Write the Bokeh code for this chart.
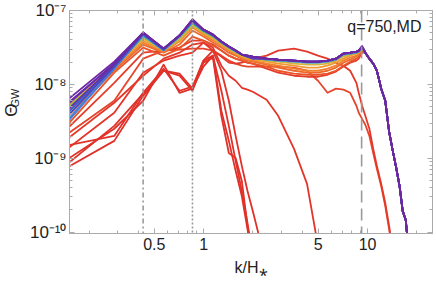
import numpy as np
from bokeh.plotting import figure
from bokeh.layouts import row
from bokeh.models import FixedTicker, CustomJSTickFormatter, LogAxis, Span, Label
from bokeh.core.properties import value
from bokeh.embed import file_html
from bokeh.resources import INLINE

# ---------------- data ----------------
# wavenumbers k/H* of the lattice modes (k_n = n * dk), sampled
k_grid = [0.1425, 0.285, 0.4275, 0.57, 0.7125, 0.855, 0.9975, 1.14, 1.2825, 1.425,
          1.5675, 1.71, 1.8525, 1.995, 2.4225, 2.85, 3.5625, 4.275, 4.9875, 5.7,
          6.4125, 7.125, 7.8375, 8.55, 8.835, 9.2625, 9.69, 10.26, 10.83, 11.4,
          12.1125, 12.825, 13.5375, 14.25, 14.9625, 15.675, 16.3875, 17.1, 17.8125]

x_major = [0.5, 1, 5, 10]
x_minor = [0.2, 0.3, 0.4, 0.6, 0.7, 0.8, 0.9, 2, 3, 4, 6, 7, 8, 9, 20]
y_major = [1e-10, 1e-9, 1e-8, 1e-7]
y_minor = [2e-10, 3e-10, 4e-10, 5e-10, 6e-10, 7e-10, 8e-10, 9e-10,
           2e-9, 3e-9, 4e-9, 5e-9, 6e-9, 7e-9, 8e-9, 9e-9,
           2e-8, 3e-8, 4e-8, 5e-8, 6e-8, 7e-8, 8e-8, 9e-8]

k_dashdot = 0.4275
k_dotted = 0.855
k_dashed = 9.2
label_text = "q=750,MD"

# early spectra (red)
early_1 = [7.2e-10, 1.72e-9, 7.0e-9, 1.53e-8, 1.31e-8, 8.2e-9, 1.97e-8, 2.30e-8, 3.76e-9,
           1.18e-9, 1.01e-9, 4.94e-10, 1.21e-10, 4.06e-11]
early_2 = [9.2e-10, 2.51e-9, 6.0e-9, 1.85e-8, 7.7e-9, 8.75e-9, 1.74e-8, 2.45e-8, 4.4e-9,
           1.72e-9, 6.75e-10, 3.09e-10, 1.10e-10, 3.47e-11]
early_3 = [1.47e-9, 2.01e-9, 7.7e-9, 1.63e-8, 8.2e-9, 9.3e-9, 2.10e-8, 2.87e-8, 1.53e-8,
           6.0e-9, 2.01e-9, 7.9e-10, 3.61e-10, 1.93e-10, 3.47e-11]
early_4 = [7.9e-10, 2.75e-9, 7.5e-9, 1.53e-8, 1.40e-8, 8.75e-9, 2.10e-8, 2.45e-8, 8.2e-9,
           2.75e-9, 9.2e-10, 3.61e-10, 1.33e-10, 4.74e-11]
early_5 = [1.26e-9, 4.13e-9, 1.44e-8, 2.10e-8, 2.45e-8, 2.69e-8, 3.68e-8, 3.15e-8, 1.79e-8,
           1.31e-8, 1.12e-8, 9.0e-9, 8.5e-9, 7.96e-9, 6.2e-9, 3.76e-9, 1.34e-9, 4.5e-10, 6.5e-11]
early_6 = [2.01e-9, 6.0e-9, 2.23e-8, 2.87e-8, 2.96e-8, 3.05e-8, 3.05e-8, 2.87e-8, 2.45e-8,
           2.10e-8, 1.91e-8, 1.79e-8, 1.74e-8, 1.74e-8, 1.74e-8, 1.74e-8, 1.69e-8, 1.53e-8,
           1.12e-8, 7.7e-9, 8.75e-9, 8.5e-9, 7.7e-9, 5.14e-9, 4.13e-9, 3.42e-9, 2.84e-9,
           2.01e-9, 1.18e-9, 7.2e-10, 4.22e-10, 2.26e-10, 1.10e-10, 5.5e-11]
early_7 = [1.72e-9, 5.65e-9, 1.31e-8, 2.23e-8, 2.69e-8, 3.46e-8, 3.68e-8, 2.87e-8, 2.38e-8,
           1.97e-8, 1.91e-8, 1.97e-8, 2.10e-8, 2.23e-8, 2.45e-8, 2.87e-8, 3.05e-8, 2.78e-8,
           2.45e-8, 2.23e-8, 1.97e-8, 1.79e-8, 1.53e-8, 1.05e-8, 7.7e-9, 5.14e-9, 3.76e-9,
           2.51e-9, 1.34e-9, 7.9e-10, 4.5e-10, 2.48e-10, 1.21e-10, 5.9e-11]

# later spectra: low/mid-k part (n = 1 ... 65)
mid_8 = [2.35e-9, 1.05e-8, 2.69e-8, 2.87e-8, 3.15e-8, 3.92e-8, 3.92e-8, 3.46e-8, 2.87e-8,
         2.45e-8, 2.23e-8, 2.10e-8, 1.97e-8, 1.91e-8, 1.63e-8, 1.44e-8, 1.31e-8, 1.27e-8,
         1.27e-8, 1.35e-8, 1.49e-8, 1.74e-8, 1.97e-8, 2.10e-8, 2.23e-8, 2.69e-8]
orange_1 = [2.59e-9, 1.44e-8, 3.15e-8, 2.45e-8, 3.05e-8, 4.44e-8, 3.92e-8, 3.35e-8, 2.87e-8,
            2.45e-8, 2.23e-8, 2.10e-8, 1.97e-8, 1.91e-8, 1.74e-8, 1.53e-8, 1.40e-8, 1.35e-8,
            1.35e-8, 1.40e-8, 1.53e-8, 1.79e-8, 2.03e-8, 2.23e-8, 2.38e-8, 2.87e-8]
orange_2 = [3.42e-9, 1.53e-8, 3.46e-8, 2.69e-8, 3.46e-8, 5.35e-8, 4.44e-8, 3.68e-8, 3.15e-8,
            2.69e-8, 2.45e-8, 2.23e-8, 2.10e-8, 2.03e-8, 1.85e-8, 1.69e-8, 1.53e-8, 1.44e-8,
            1.44e-8, 1.53e-8, 1.69e-8, 1.97e-8, 2.16e-8, 2.38e-8, 2.53e-8, 2.96e-8]
orange_3 = [4.13e-9, 1.63e-8, 3.68e-8, 2.78e-8, 3.80e-8, 5.88e-8, 4.72e-8, 3.92e-8, 3.35e-8,
            2.87e-8, 2.53e-8, 2.30e-8, 2.16e-8, 2.10e-8, 1.91e-8, 1.79e-8, 1.63e-8, 1.53e-8,
            1.53e-8, 1.63e-8, 1.79e-8, 2.10e-8, 2.30e-8, 2.45e-8, 2.61e-8, 3.05e-8]
orange_4 = [4.4e-9, 1.74e-8, 3.92e-8, 2.87e-8, 3.92e-8, 6.07e-8, 4.87e-8, 4.17e-8, 3.46e-8,
            2.96e-8, 2.61e-8, 2.38e-8, 2.23e-8, 2.16e-8, 2.03e-8, 1.91e-8, 1.79e-8, 1.69e-8,
            1.69e-8, 1.79e-8, 1.97e-8, 2.23e-8, 2.45e-8, 2.61e-8, 2.69e-8, 3.15e-8]
yellow_1 = [4.68e-9, 1.79e-8, 4.17e-8, 2.87e-8, 4.04e-8, 6.26e-8, 5.03e-8, 4.30e-8, 3.57e-8,
            3.05e-8, 2.69e-8, 2.45e-8, 2.30e-8, 2.23e-8, 2.10e-8, 2.03e-8, 1.91e-8, 1.85e-8,
            1.85e-8, 1.91e-8, 2.10e-8, 2.38e-8, 2.53e-8, 2.69e-8, 2.78e-8, 3.15e-8]
green_1 = [4.4e-9, 1.74e-8, 4.44e-8, 2.96e-8, 4.30e-8, 6.67e-8, 5.19e-8, 4.44e-8, 3.68e-8,
           3.15e-8, 2.78e-8, 2.53e-8, 2.38e-8, 2.30e-8, 2.16e-8, 2.10e-8, 2.03e-8, 1.97e-8,
           1.97e-8, 2.03e-8, 2.16e-8, 2.53e-8, 2.61e-8, 2.69e-8, 2.78e-8, 3.15e-8]
blue_1 = [3.02e-9, 1.63e-8, 4.58e-8, 2.87e-8, 4.44e-8, 6.87e-8, 5.35e-8, 4.58e-8, 3.68e-8,
          3.15e-8, 2.78e-8, 2.53e-8, 2.38e-8, 2.30e-8, 2.16e-8, 2.10e-8, 2.03e-8, 1.97e-8,
          1.97e-8, 2.03e-8, 2.16e-8, 2.53e-8, 2.61e-8, 2.69e-8, 2.78e-8, 3.15e-8]
blue_2 = [3.76e-9, 1.79e-8, 4.72e-8, 2.96e-8, 4.58e-8, 7.1e-8, 5.35e-8, 4.58e-8, 3.80e-8,
          3.25e-8, 2.87e-8, 2.53e-8, 2.45e-8, 2.38e-8, 2.23e-8, 2.16e-8, 2.10e-8, 2.03e-8,
          2.03e-8, 2.10e-8, 2.23e-8, 2.61e-8, 2.69e-8, 2.78e-8, 2.87e-8, 3.25e-8]
blue_3 = [2.84e-9, 1.63e-8, 4.72e-8, 2.96e-8, 4.58e-8, 7.1e-8, 5.35e-8, 4.58e-8, 3.80e-8,
          3.25e-8, 2.87e-8, 2.53e-8, 2.45e-8, 2.38e-8, 2.23e-8, 2.16e-8, 2.10e-8, 2.03e-8,
          2.03e-8, 2.10e-8, 2.23e-8, 2.61e-8, 2.69e-8, 2.78e-8, 2.87e-8, 3.25e-8]
indigo_1 = [3.42e-9, 1.74e-8, 4.87e-8, 3.05e-8, 4.58e-8, 7.32e-8, 5.52e-8, 4.72e-8, 3.80e-8,
            3.25e-8, 2.87e-8, 2.53e-8, 2.38e-8, 2.23e-8, 2.23e-8, 2.16e-8, 2.10e-8, 2.03e-8,
            2.03e-8, 2.10e-8, 2.23e-8, 2.61e-8, 2.69e-8, 2.78e-8, 2.87e-8, 3.25e-8]
violet_1 = [5.14e-9, 1.91e-8, 4.87e-8, 3.05e-8, 4.58e-8, 7.32e-8, 5.52e-8, 4.72e-8, 3.80e-8,
            3.25e-8, 2.87e-8, 2.53e-8, 2.38e-8, 2.23e-8, 2.23e-8, 2.16e-8, 2.10e-8, 2.03e-8,
            2.03e-8, 2.10e-8, 2.23e-8, 2.61e-8, 2.69e-8, 2.78e-8, 2.87e-8, 3.25e-8]
purple_2 = [4.13e-9, 1.85e-8, 5.03e-8, 3.05e-8, 4.58e-8, 7.55e-8, 5.52e-8, 4.72e-8, 3.80e-8,
            3.25e-8, 2.87e-8, 2.53e-8, 2.45e-8, 2.38e-8, 2.23e-8, 2.16e-8, 2.10e-8, 2.03e-8,
            2.03e-8, 2.10e-8, 2.23e-8, 2.61e-8, 2.69e-8, 2.78e-8, 2.87e-8, 3.25e-8]
purple_3 = [4.98e-9, 1.91e-8, 5.03e-8, 3.05e-8, 4.58e-8, 7.55e-8, 5.52e-8, 4.72e-8, 3.80e-8,
            3.25e-8, 2.87e-8, 2.53e-8, 2.45e-8, 2.38e-8, 2.23e-8, 2.16e-8, 2.10e-8, 2.03e-8,
            2.03e-8, 2.10e-8, 2.23e-8, 2.61e-8, 2.69e-8, 2.78e-8, 2.87e-8, 3.25e-8]
purple_final = [5.8e-9, 2.03e-8, 5.03e-8, 3.05e-8, 4.58e-8, 7.55e-8, 5.52e-8, 4.72e-8, 3.80e-8,
                3.25e-8, 2.87e-8, 2.53e-8, 2.45e-8, 2.38e-8, 2.23e-8, 2.16e-8, 2.10e-8, 2.03e-8,
                2.03e-8, 2.10e-8, 2.23e-8, 2.61e-8, 2.69e-8, 2.78e-8, 2.87e-8, 3.25e-8]
# common high-k tail of the late spectra (n = 68 ... 125)
late_tail = [2.69e-8, 2.23e-8, 1.91e-8, 1.53e-8, 8.75e-9, 6.0e-9, 2.3e-9, 1.26e-9, 7.4e-10,
             4.22e-10, 1.93e-10, 1.46e-10, 5.5e-11]

series = [
    (early_1, "#e0302a"), (early_2, "#e0302a"), (early_3, "#e1312a"), (early_4, "#e1322a"),
    (early_5, "#e3352a"), (early_6, "#e6442b"), (early_7, "#e4392a"),
    (mid_8 + late_tail, "#e43d2a"),
    (orange_1 + late_tail, "#e9552b"), (orange_2 + late_tail, "#ec682c"),
    (orange_3 + late_tail, "#f07f2e"), (orange_4 + late_tail, "#f29831"),
    (yellow_1 + late_tail, "#d9b33c"), (green_1 + late_tail, "#6cbb5f"),
    (blue_1 + late_tail, "#3f8fd8"), (blue_3 + late_tail, "#4a7ad6"),
    (blue_2 + late_tail, "#3c62cf"), (indigo_1 + late_tail, "#4b45c0"),
    (violet_1 + late_tail, "#5a3bb8"), (purple_2 + late_tail, "#6630aa"),
    (purple_3 + late_tail, "#6b2aa6"), (purple_final + late_tail, "#6e26a2"),
]

# ---------------- figure ----------------
FONT = "Liberation Sans"
GRAY = "#ababab"
TXT = "#222222"

p = figure(width=412, height=284, x_axis_type="log", y_axis_type="log",
           x_range=(0.152, 24.9), y_range=(9.6e-11, 1e-7),
           output_backend="svg", toolbar_location=None,
           min_border_left=45, min_border_right=4, min_border_top=10, min_border_bottom=51)
p.background_fill_color = "white"
p.border_fill_color = "white"
p.outline_line_color = GRAY
p.grid.visible = False

for vals, col in series:
    k = np.array(k_grid[:len(vals)], dtype=float)
    th = np.array(vals, dtype=float)
    p.line(k, th, line_color=col, line_width=1.8, line_join="round")

for loc, dash in [(k_dashdot, "5 3 2 3"), (k_dotted, "2 2"), (k_dashed, "12 6")]:
    p.add_layout(Span(location=loc, dimension="height", line_color="#9a9a9a",
                      line_width=1.6, line_dash=dash))

sup_code = """
const e = Math.round(Math.log10(tick));
const sup = {"-": "\u207b", "0": "\u2070", "1": "\u00b9", "2": "\u00b2", "3": "\u00b3",
             "4": "\u2074", "5": "\u2075", "6": "\u2076", "7": "\u2077", "8": "\u2078", "9": "\u2079"};
return "10" + String(e).split("").map(c => sup[c]).join("");
"""

def style(ax):
    ax.axis_line_color = GRAY
    ax.major_tick_line_color = GRAY
    ax.minor_tick_line_color = GRAY
    ax.major_tick_in = 5
    ax.major_tick_out = 0
    ax.minor_tick_in = 3
    ax.minor_tick_out = 0
    ax.major_label_text_font = FONT
    ax.major_label_text_font_size = "16px"
    ax.major_label_text_color = TXT

xa = p.xaxis[0]
xa.ticker = FixedTicker(ticks=x_major, minor_ticks=x_minor)
xa.formatter = CustomJSTickFormatter(code="return tick.toString();")
style(xa)
xa.major_label_standoff = 4
xa.axis_label = "k/H\u204e"
xa.axis_label_text_font = FONT
xa.axis_label_text_font_size = "16px"
xa.axis_label_text_font_style = "normal"
xa.axis_label_text_color = TXT
xa.axis_label_standoff = 6

ya = p.yaxis[0]
ya.ticker = FixedTicker(ticks=y_major, minor_ticks=y_minor)
ya.formatter = CustomJSTickFormatter(code=sup_code)
style(ya)
ya.major_label_text_font_size = "17px"
ya.major_label_standoff = 3

for place, ticks, minor in [("above", x_major, x_minor), ("right", y_major, y_minor)]:
    ax = LogAxis(ticker=FixedTicker(ticks=ticks, minor_ticks=minor),
                 formatter=CustomJSTickFormatter(code="return '';"))
    style(ax)
    ax.major_label_text_font_size = "0px"
    ax.major_label_standoff = 0
    p.add_layout(ax, place)

p.add_layout(Label(x=352, y=207, x_units="screen", y_units="screen", text=label_text,
                   text_align="right", text_baseline="middle", text_font=FONT,
                   text_font_size="16px", text_color=TXT))

# narrow strip holding the rotated y-axis title  Θ_GW
lab = figure(width=24, height=284, x_range=(0, 24), y_range=(0, 284),
             output_backend="svg", toolbar_location=None, min_border=0,
             x_axis_location=None, y_axis_location=None)
lab.grid.visible = False
lab.outline_line_color = None
lab.background_fill_color = "white"
lab.border_fill_color = "white"
lab.text(x=[10.5], y=[157], text=["\u0398"], angle=np.pi / 2, text_align="center",
         text_baseline="middle", text_font=value(FONT), text_font_size="17px", text_color=TXT)
lab.text(x=[14.5], y=[172.5], text=["GW"], angle=np.pi / 2, text_align="center",
         text_baseline="middle", text_font=value(FONT), text_font_size="11px", text_color=TXT)

layout = row(lab, p)
open("out.html", "w").write(file_html(layout, INLINE))
